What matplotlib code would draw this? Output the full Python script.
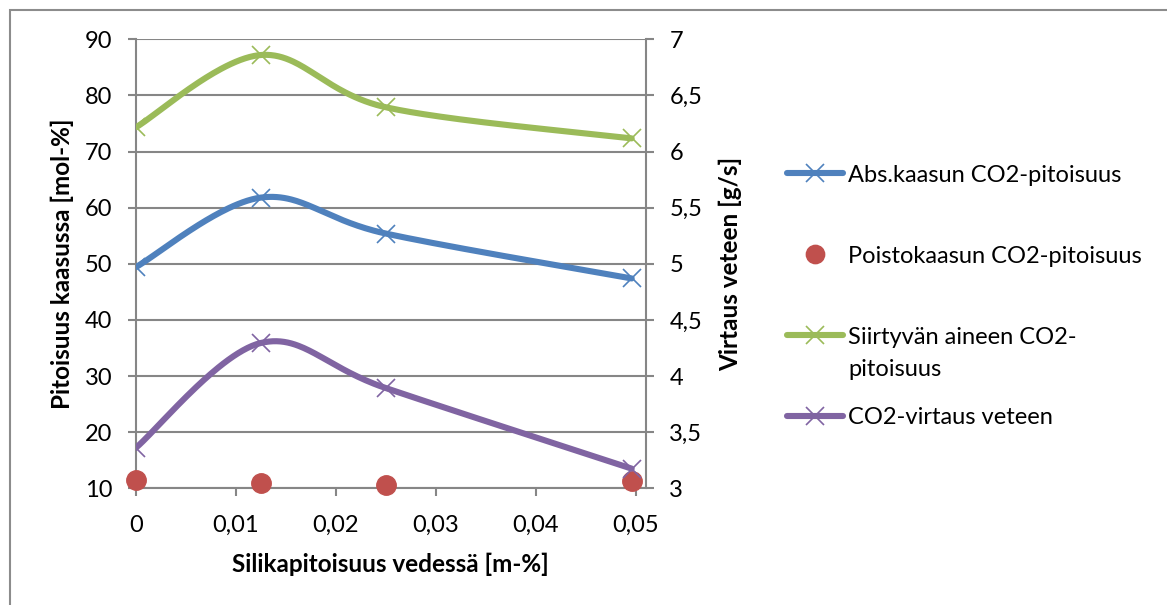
import numpy as np
import matplotlib
matplotlib.use("Agg")
import matplotlib.pyplot as plt
from matplotlib.lines import Line2D
from matplotlib.patches import Rectangle

plt.rcParams['font.family'] = ['Lato', 'DejaVu Sans']

# Silica content in water [m-%]
silica = [0.0, 0.0125, 0.025, 0.0496]

# Left axis series [mol-%]
abs_gas_co2 = [49.4, 61.8, 55.4, 47.4]
exhaust_co2 = [11.55, 10.95, 10.6, 11.25]
transfer_co2 = [74.3, 87.2, 77.9, 72.35]

# Right axis series [g/s]
co2_flow = [3.36, 4.295, 3.894, 3.176]

series_names = [
    "Abs.kaasun CO2-pitoisuus",
    "Poistokaasun CO2-pitoisuus",
    "Siirtyvän aineen CO2-\npitoisuus",
    "CO2-virtaus veteen",
]

x_ticks = [0, 0.01, 0.02, 0.03, 0.04, 0.05]
x_tick_labels = ["0", "0,01", "0,02", "0,03", "0,04", "0,05"]
left_ticks = [10, 20, 30, 40, 50, 60, 70, 80, 90]
right_ticks = [3, 3.5, 4, 4.5, 5, 5.5, 6, 6.5, 7]
right_tick_labels = ["3", "3,5", "4", "4,5", "5", "5,5", "6", "6,5", "7"]

BLUE = "#4F81BD"
RED = "#C0504D"
GREEN = "#9BBB59"
PURPLE = "#8064A2"
GRID = "#868686"

FS = 17
FS_LABEL = 17.5


def smooth_curve(xs, ys, n=60):
    """Piecewise cubic Bezier through the points (Catmull-Rom style control points)."""
    p = np.column_stack([xs, ys]).astype(float)
    out = []
    m = len(p)
    t = np.linspace(0, 1, n)[:, None]
    for i in range(m - 1):
        p0 = p[i - 1] if i > 0 else p[i]
        p1 = p[i]
        p2 = p[i + 1]
        p3 = p[i + 2] if i + 2 < m else p[i + 1]
        c1 = p1 + (p2 - p0) / 6.0
        c2 = p2 - (p3 - p1) / 6.0
        seg = ((1 - t) ** 3) * p1 + 3 * ((1 - t) ** 2) * t * c1 + 3 * (1 - t) * t ** 2 * c2 + t ** 3 * p2
        out.append(seg if i == 0 else seg[1:])
    s = np.vstack(out)
    return s[:, 0], s[:, 1]


W, H = 1167, 605
fig = plt.figure(figsize=(W / 100, H / 100), dpi=100)

# chart frame
fig.add_artist(Rectangle((10 / W, -0.1), 1.2, (H - 10) / H + 0.1, transform=fig.transFigure,
                         fill=False, edgecolor="#8c8c8c", linewidth=1.5))

x0, x1 = 135.7, 645.7
y_top, y_bot = 39.3, 488.4
ax = fig.add_axes([x0 / W, (H - y_bot) / H, (x1 - x0) / W, (y_bot - y_top) / H])
ax2 = ax.twinx()

ax.set_xlim(0, 0.051)
ax.set_ylim(10, 90)
ax2.set_ylim(3, 7)

LW = 4.4
MS = 13
MEW = 1.2

# smoothed lines with x markers
for ys, col, a in [(abs_gas_co2, BLUE, ax), (transfer_co2, GREEN, ax), (co2_flow, PURPLE, ax2)]:
    sx, sy = smooth_curve(silica, ys)
    a.plot(sx, sy, color=col, lw=LW, solid_capstyle="round", zorder=3)
    a.plot(silica, ys, linestyle="none", marker="x", ms=MS, mew=MEW, color=col, zorder=4)

ax.plot(silica, exhaust_co2, linestyle="none", marker="o", ms=14, color=RED, mec=RED, zorder=4, clip_on=False)

# grid and spines
ax.set_yticks(left_ticks)
ax.yaxis.grid(True, color=GRID, lw=1.5)
ax.set_axisbelow(True)
ax.set_xticks(x_ticks)
ax.set_xticklabels(x_tick_labels)
ax2.set_yticks(right_ticks)
ax2.set_yticklabels(right_tick_labels)

for a in (ax, ax2):
    for sp in a.spines.values():
        sp.set_visible(False)
for a, side in [(ax, "left"), (ax2, "right"), (ax, "bottom")]:
    a.spines[side].set_visible(True)
    a.spines[side].set_color(GRID)
    a.spines[side].set_linewidth(1.5)

tick_kw = dict(length=6, width=1.5, color=GRID, labelsize=FS, labelcolor="black")
ax.tick_params(axis="y", direction="out", pad=11, **tick_kw)
ax.tick_params(axis="x", direction="out", pad=13, **tick_kw)
ax2.tick_params(axis="y", direction="out", pad=11, **tick_kw)

ax.set_ylabel("Pitoisuus kaasussa [mol-%]", fontsize=FS_LABEL, fontweight="bold", va="center")
ax.yaxis.set_label_coords(-0.1445, 0.5)
ax2.set_ylabel("Virtaus veteen [g/s]", fontsize=FS_LABEL, fontweight="bold", va="center")
ax2.yaxis.set_label_coords(1.167, 0.5)
ax.set_xlabel("Silikapitoisuus vedessä [m-%]", fontsize=FS_LABEL, fontweight="bold", va="center")
ax.xaxis.set_label_coords(0.5, -0.168)

# legend
legend_rows = [173.3, 254.3, 335.0, 416.0]
legend_styles = [(BLUE, "x", True), (RED, "o", False), (GREEN, "x", True), (PURPLE, "x", True)]
lx0, lx1 = 787, 843
for name, yrow, (col, mk, has_line) in zip(series_names, legend_rows, legend_styles):
    yf = 1 - yrow / H
    if has_line:
        fig.add_artist(Line2D([lx0 / W, lx1 / W], [yf, yf], transform=fig.transFigure,
                              color=col, lw=LW, solid_capstyle="round"))
    fig.add_artist(Line2D([(lx0 + lx1) / 2 / W], [yf], transform=fig.transFigure,
                          color=col, marker=mk, ms=MS, mew=MEW, linestyle="none"))
    lines = name.split("\n")
    for k, line in enumerate(lines):
        fig.text(848 / W, 1 - (yrow + 33 * k) / H, line, fontsize=FS, ha="left", va="center_baseline")

fig.savefig("out.png", dpi=100)
